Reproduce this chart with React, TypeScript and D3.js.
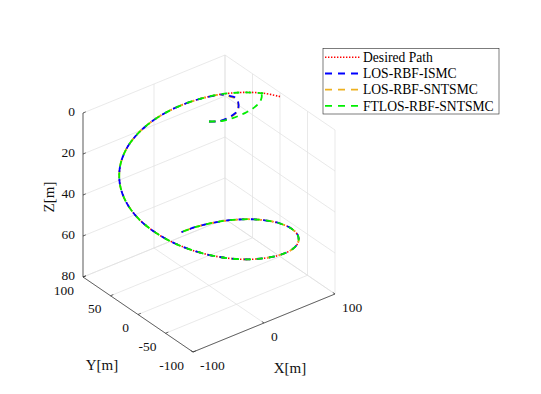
import React from 'react';
import * as d3 from 'd3';

const desiredX = [100, 96.6, 86.6, 70.7, 50, 25.9, 0, -25.9, -50, -70.7, -86.6, -96.6, -100, -96.6, -86.6, -70.7, -50, -25.9, 0, 25.9, 50, 70.7, 86.6, 96.6, 100, 96.6, 86.6, 70.7, 50, 34.2];
const desiredY = [0, 25.9, 50, 70.7, 86.6, 96.6, 100, 96.6, 86.6, 70.7, 50, 25.9, 0, -25.9, -50, -70.7, -86.6, -96.6, -100, -96.6, -86.6, -70.7, -50, -25.9, 0, 25.9, 50, 70.7, 86.6, 94.0];
const desiredZ = [2, 4.6, 7.2, 9.7, 12.3, 14.9, 17.5, 20.1, 22.6, 25.2, 27.8, 30.4, 33, 35.5, 38.1, 40.7, 43.3, 45.9, 48.4, 51, 53.6, 56.2, 58.8, 61.3, 63.9, 66.5, 69.1, 71.7, 74.2, 76];

// start of each tracked trajectory, before it joins the desired path
const ismcX = [0, 12, 32, 43, 55, 62, 65];
const ismcY = [0, -5, -2, 3, 18, 32, 45];
const ismcZ = [0, 0.5, 1, 1, 1.5, 3, 5];
const ismcJoin = 3;

const sntsmcX = [0, 12, 31, 42, 54, 61, 64];
const sntsmcY = [0, -5, -3, 2, 17, 31, 44];
const sntsmcZ = [0, 0.5, 1, 1, 1.5, 3, 5];
const sntsmcJoin = 3;

const ftlosX = [0, 13, 28, 45, 62, 74, 82, 90];
const ftlosY = [0, -6, -7, -7, -3, 3, 10, 20];
const ftlosZ = [0, 0.5, 1, 1, 1.2, 1.5, 1.5, 2.5];
const ftlosJoin = 1;

const xTicks = [-100, 0, 100];
const yTicks = [-100, -50, 0, 50, 100];
const zTicks = [0, 20, 40, 60, 80];

const legendLabels = ['Desired Path', 'LOS-RBF-ISMC', 'LOS-RBF-SNTSMC', 'FTLOS-RBF-SNTSMC'];
const colors = ['#ff0000', '#0000ff', '#edb120', '#00ee00'];

const W = 541;
const H = 394;
const FONT = '"Liberation Serif", "Times New Roman", serif';

// projection of the 3D box: corner (x=-100, y=-100, z=80) and the three edge vectors
const O = [193, 352];
const EX = [142, -58];
const EY = [-110, -75];
const EZ = [0, -164];

const xs = d3.scaleLinear().domain([-100, 100]).range([0, 1]);
const ys = d3.scaleLinear().domain([-100, 100]).range([0, 1]);
const zs = d3.scaleLinear().domain([80, 0]).range([0, 1]);

type P3 = [number, number, number];

const proj = (p: P3): [number, number] => {
  const a = xs(p[0]), b = ys(p[1]), c = zs(p[2]);
  return [O[0] + a * EX[0] + b * EY[0] + c * EZ[0], O[1] + a * EX[1] + b * EY[1] + c * EZ[1]];
};

const zip = (xa: number[], ya: number[], za: number[]): P3[] => xa.map((x, i) => [x, ya[i], za[i]] as P3);

const desired = zip(desiredX, desiredY, desiredZ);

// lead-in (own points up to the join) and the part that lies on the desired path
const leadIns = [
  zip(ismcX, ismcY, ismcZ).concat([desired[ismcJoin]]),
  zip(sntsmcX, sntsmcY, sntsmcZ).concat([desired[sntsmcJoin]]),
  zip(ftlosX, ftlosY, ftlosZ).concat([desired[ftlosJoin]]),
];
const onPath = [
  desired.slice(ismcJoin),
  desired.slice(sntsmcJoin),
  desired.slice(ftlosJoin),
];

const line = d3.line<P3>()
  .x(d => proj(d)[0])
  .y(d => proj(d)[1])
  .curve(d3.curveCatmullRom.alpha(0.5));

const seg = (a: P3, b: P3) => {
  const p = proj(a), q = proj(b);
  return `M${p[0]},${p[1]}L${q[0]},${q[1]}`;
};

// dash styles of the three tracks on the shared part: [dasharray, offset]
const trackDash: [string, number][] = [['6,6.4', 6], ['6,6', 9], ['6,6', 0]];
// order drawn: orange, blue, green on top
const drawOrder = [1, 0, 2];

const App: React.FC = () => {
  const grid: string[] = [];
  // floor z = 80
  xTicks.forEach(x => grid.push(seg([x, -100, 80], [x, 100, 80])));
  yTicks.forEach(y => grid.push(seg([-100, y, 80], [100, y, 80])));
  // back wall y = 100
  xTicks.forEach(x => grid.push(seg([x, 100, 0], [x, 100, 80])));
  zTicks.forEach(z => grid.push(seg([-100, 100, z], [100, 100, z])));
  // back wall x = 100
  yTicks.forEach(y => grid.push(seg([100, y, 0], [100, y, 80])));
  zTicks.forEach(z => grid.push(seg([100, -100, z], [100, 100, z])));

  const axisColor = '#262626';

  return (
    <svg width={W} height={H} style={{ position: 'absolute', left: 0, top: 0, background: '#fff' }}
      fontFamily={FONT}>
      <rect width={W} height={H} fill="#fff" />
      <g stroke="#e0e0e0" strokeWidth={0.7} fill="none">
        {grid.map((d, i) => <path key={i} d={d} />)}
      </g>

      {/* axis lines */}
      <g stroke={axisColor} strokeWidth={0.7} fill="none">
        <path d={seg([-100, 100, 0], [-100, 100, 80])} />
        <path d={seg([-100, 100, 80], [-100, -100, 80])} />
        <path d={seg([-100, -100, 80], [100, -100, 80])} />
        {zTicks.map(z => <path key={'zt' + z} d={seg([-100, 100, z], [-96, 100, z])} />)}
        {yTicks.map(y => <path key={'yt' + y} d={seg([-100, y, 80], [-96, y, 80])} />)}
        {xTicks.map(x => <path key={'xt' + x} d={seg([x, -100, 80], [x, -96, 80])} />)}
      </g>

      {/* tick labels */}
      <g fontSize={13.5} fill="#111">
        {zTicks.map(z => {
          const p = proj([-100, 100, z]);
          return <text key={'zl' + z} x={p[0] - 8} y={p[1] - 2} dy="0.35em" textAnchor="end">{z}</text>;
        })}
        {yTicks.map(y => {
          const p = proj([-100, y, 80]);
          return <text key={'yl' + y} x={p[0] - 9} y={p[1] + 13} dy="0.35em" textAnchor="end">{y}</text>;
        })}
        {xTicks.map(x => {
          const p = proj([x, -100, 80]);
          return <text key={'xl' + x} x={p[0] + 7} y={p[1] + 13.5} dy="0.35em" textAnchor="start">{x}</text>;
        })}
      </g>
      <g fontSize={15} fill="#111">
        <text x={290} y={368} dy="0.35em" textAnchor="middle">X[m]</text>
        <text x={102} y={365} dy="0.35em" textAnchor="middle">Y[m]</text>
        <text transform="translate(49,197) rotate(-90)" dy="0.35em" textAnchor="middle">Z[m]</text>
      </g>

      {/* trajectories */}
      <g fill="none" strokeWidth={1.8}>
        <path d={line(desired) || ''} stroke={colors[0]} strokeWidth={1.6} strokeDasharray="1.4,1.6" />
        {drawOrder.map(i => (
          <g key={'tr' + i}>
            <path d={line(leadIns[i]) || ''} stroke={colors[i + 1]} strokeDasharray="6.5,5" />
            <path d={line(onPath[i]) || ''} stroke={colors[i + 1]}
              strokeDasharray={trackDash[i][0]} strokeDashoffset={trackDash[i][1]} />
          </g>
        ))}
      </g>

      {/* legend */}
      <g>
        <rect x={323} y={48.5} width={176} height={65.5} fill="#fff" stroke={axisColor} strokeWidth={0.6} />
        {legendLabels.map((lab, i) => {
          const y = 57.3 + i * 16.2;
          return (
            <g key={lab}>
              <line x1={325} x2={360} y1={y} y2={y} stroke={colors[i]} strokeWidth={i === 0 ? 1.6 : 1.8}
                strokeDasharray={i === 0 ? '1.4,1.6' : '7,6'} />
              <text x={363} y={y} dy="0.35em" fontSize={13.6} fill="#000">{lab}</text>
            </g>
          );
        })}
      </g>
    </svg>
  );
};

export default App;
